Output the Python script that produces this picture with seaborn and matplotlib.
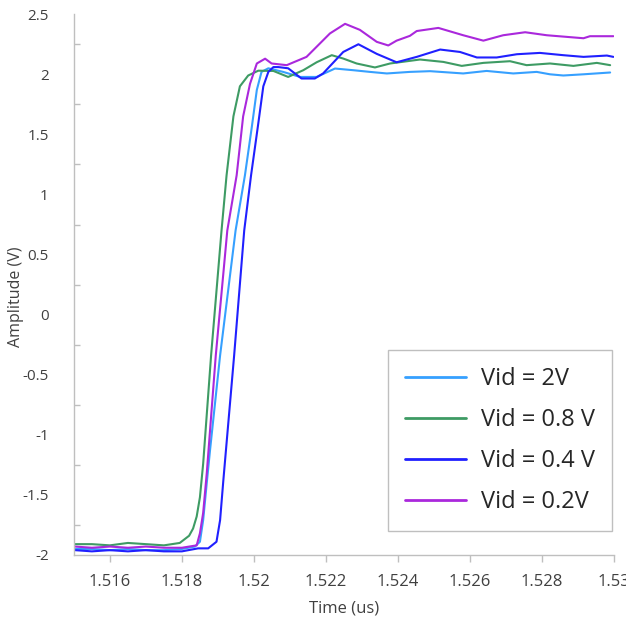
import matplotlib
matplotlib.use("Agg")
import matplotlib.pyplot as plt
import matplotlib.ticker as mticker
import numpy as np
import pandas as pd
import seaborn as sns

# ==============================================================
# Data (time in us, amplitude in V)
# ==============================================================
labels = ["Vid = 2V", "Vid = 0.8 V", "Vid = 0.4 V", "Vid = 0.2V"]
colors = ["#36A0FF", "#3E9B64", "#2020FF", "#AA28DC"]

t_2v = [1.51503, 1.5155, 1.5160, 1.5165, 1.5170, 1.5175, 1.5180, 1.51836, 1.51850,
        1.51859, 1.51869, 1.51878, 1.51906, 1.51949, 1.51975, 1.51994,
        1.52008, 1.52021, 1.52040, 1.52081, 1.52128, 1.52174, 1.52225, 1.52276,
        1.52322, 1.52369, 1.52433, 1.52489, 1.52581, 1.52646, 1.52720, 1.52785,
        1.52822, 1.52859, 1.52915, 1.52989]
v_2v = [-1.95, -1.95, -1.96, -1.95, -1.96, -1.96, -1.95, -1.93, -1.89,
        -1.71, -1.40, -1.13, -0.34, 0.70, 1.16, 1.56,
        1.87, 2.02, 2.05, 2.02, 1.978, 1.978, 2.048, 2.034,
        2.02, 2.007, 2.02, 2.026, 2.007, 2.028, 2.007, 2.02,
        2.0, 1.99, 2.0, 2.015]

t_08v = [1.51503, 1.5155, 1.5160, 1.5165, 1.5170, 1.5175, 1.51794, 1.51820, 1.51831,
         1.51841, 1.51850, 1.51859, 1.51881, 1.51910, 1.51924, 1.51943,
         1.51961, 1.51984, 1.52012, 1.52054, 1.52095, 1.52137, 1.52174, 1.52216,
         1.52248, 1.52285, 1.52336, 1.52378, 1.52461, 1.52526, 1.52577, 1.52637,
         1.52711, 1.52757, 1.52822, 1.52887, 1.52952, 1.52989]
v_08v = [-1.91, -1.91, -1.92, -1.90, -1.91, -1.92, -1.90, -1.84, -1.78,
         -1.68, -1.52, -1.24, -0.34, 0.70, 1.16, 1.65,
         1.90, 1.99, 2.03, 2.028, 1.978, 2.034, 2.10, 2.159,
         2.131, 2.09, 2.057, 2.09, 2.123, 2.103, 2.07, 2.095,
         2.109, 2.076, 2.09, 2.07, 2.095, 2.076]

t_04v = [1.51503, 1.5155, 1.5160, 1.5165, 1.5170, 1.5175, 1.5180, 1.51845, 1.51873,
         1.51896, 1.51906, 1.51915, 1.51945, 1.51973, 1.51992,
         1.52012, 1.52026, 1.52040, 1.52054, 1.52068, 1.52095, 1.52132, 1.52169,
         1.52192, 1.52248, 1.52290, 1.52341, 1.52396, 1.52452, 1.52517, 1.52572,
         1.52619, 1.52674, 1.52730, 1.52794, 1.52859, 1.52915, 1.52980, 1.52998]
v_04v = [-1.96, -1.97, -1.96, -1.97, -1.96, -1.97, -1.97, -1.945, -1.945,
         -1.89, -1.71, -1.38, -0.34, 0.70, 1.16,
         1.59, 1.90, 2.02, 2.06, 2.06, 2.05, 1.965, 1.965,
         2.007, 2.186, 2.25, 2.17, 2.10, 2.145, 2.206, 2.186,
         2.14, 2.14, 2.167, 2.178, 2.159, 2.145, 2.156, 2.145]

t_02v = [1.51503, 1.5155, 1.5160, 1.5165, 1.5170, 1.5175, 1.5180, 1.51841, 1.51850,
         1.51859, 1.51869, 1.51894, 1.51926, 1.51952, 1.51970, 1.51989,
         1.52008, 1.52031, 1.52049, 1.52091, 1.52146, 1.52211, 1.52253, 1.52294,
         1.52341, 1.52373, 1.52396, 1.52433, 1.52452, 1.52512, 1.52581, 1.52637,
         1.52692, 1.52753, 1.52813, 1.52915, 1.52933, 1.52998]
v_02v = [-1.93, -1.94, -1.93, -1.94, -1.93, -1.94, -1.94, -1.92, -1.82,
         -1.65, -1.32, -0.34, 0.70, 1.16, 1.65, 1.92,
         2.09, 2.13, 2.09, 2.076, 2.145, 2.34, 2.42, 2.37,
         2.27, 2.24, 2.28, 2.32, 2.36, 2.386, 2.325, 2.28,
         2.325, 2.35, 2.325, 2.30, 2.317, 2.317]

series = [(t_2v, v_2v), (t_08v, v_08v), (t_04v, v_04v), (t_02v, v_02v)]
df = pd.concat(
    [pd.DataFrame({"time": t, "amp": v, "trace": lab}) for (t, v), lab in zip(series, labels)],
    ignore_index=True,
)

# ==============================================================
# Style
# ==============================================================
sns.set_theme(style="white")
plt.rcParams["font.family"] = ["Open Sans", "DejaVu Sans"]
plt.rcParams["axes.unicode_minus"] = False

fig, ax = plt.subplots(figsize=(6.26, 6.18), dpi=100)
fig.subplots_adjust(left=0.118, right=0.981, top=0.977, bottom=0.102)

sns.lineplot(data=df, x="time", y="amp", hue="trace", hue_order=labels,
             palette=dict(zip(labels, colors)), sort=False, estimator=None,
             linewidth=1.5, ax=ax)

ax.set_xlim(1.515, 1.530)
ax.set_ylim(-2, 2.5)

axis_grey = "#BFBFBF"
text_grey = "#404040"
for side in ["top", "right"]:
    ax.spines[side].set_visible(False)
for side in ["left", "bottom"]:
    ax.spines[side].set_color(axis_grey)
    ax.spines[side].set_linewidth(1.0)

ax.set_xticks(np.arange(1.516, 1.5301, 0.002))
ax.xaxis.set_major_formatter(mticker.FuncFormatter(lambda x, p: f"{round(x, 4):g}"))
ax.tick_params(axis="x", direction="out", length=5, width=1, color=axis_grey,
               labelsize=12, labelcolor=text_grey, pad=9, bottom=True)

ax.set_yticks(np.arange(-2, 2.51, 0.5))
ax.yaxis.set_major_formatter(mticker.FuncFormatter(lambda y, p: f"{round(y, 2):g}"))
ax.set_yticks(np.arange(-1.75, 2.3, 0.5), minor=True)
ax.tick_params(axis="y", which="major", length=0, labelsize=11, labelcolor=text_grey, pad=18)
ax.tick_params(axis="y", which="minor", direction="in", length=4, width=1,
               color=axis_grey, left=True)

ax.set_xlabel("Time (us)", fontsize=12, color=text_grey, labelpad=7)
ax.set_ylabel("Amplitude (V)", fontsize=11.5, color=text_grey)
ax.yaxis.set_label_coords(-0.093, 0.477)

leg = ax.legend(loc="upper left", bbox_to_anchor=(0.5815, 0.379), borderaxespad=0,
                fontsize=17, handlelength=2.6, handletextpad=0.62, labelspacing=0.72,
                borderpad=0.72, frameon=True, fancybox=False, framealpha=1)
leg.get_frame().set_edgecolor(axis_grey)
leg.get_frame().set_linewidth(1.0)
for line in leg.get_lines():
    line.set_linewidth(2.0)

fig.savefig("out.png", dpi=100)
plt.close(fig)
